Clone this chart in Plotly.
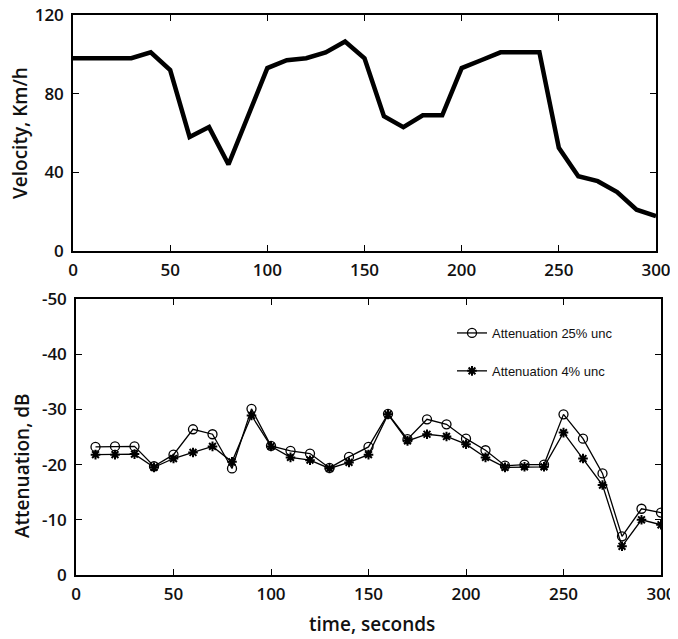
import plotly.graph_objects as go

# ---- data ----
time_velocity = list(range(0, 301, 10))
velocity_kmh = [98, 98, 98, 98, 101, 92, 58, 63, 44, 69,
                93, 97, 98, 101, 106.5, 98, 68.5, 63, 69, 69,
                93, 97, 101, 101, 101, 52.5, 38, 35.5, 30, 21, 17.7]

time_att = list(range(10, 301, 10))
att_25 = [-23.2, -23.3, -23.3, -19.7, -21.8, -26.4, -25.5, -19.3, -30.1, -23.4,
          -22.5, -22.0, -19.4, -21.4, -23.2, -29.2, -24.6, -28.2, -27.3, -24.7,
          -22.6, -19.8, -20.0, -20.0, -29.1, -24.7, -18.4, -7.0, -12.0, -11.3]
att_4 = [-21.8, -21.8, -21.9, -19.5, -21.1, -22.2, -23.3, -20.5, -28.9, -23.3,
         -21.3, -20.8, -19.3, -20.4, -21.8, -29.1, -24.3, -25.5, -25.1, -23.7,
         -21.3, -19.5, -19.6, -19.6, -25.8, -21.1, -16.3, -5.2, -10.0, -9.1]

x_ticks = [0, 50, 100, 150, 200, 250, 300]
vel_ticks = [0, 40, 80, 120]
att_ticks = [0, -10, -20, -30, -40, -50]
att_tick_text = ["0", "-10", "-20", "-30", "-40", "-50"]

# page body has an 8px margin; the figure is sized to fit inside the window
OFF = 8
W, H = 678 - OFF, 639 - OFF
def px(x):
    return (x - OFF) / W
def py(y):
    return 1 - (y - OFF) / H

fig = go.Figure()
fig.add_trace(go.Scatter(x=time_velocity, y=velocity_kmh, mode="lines",
                         line=dict(color="black", width=4.5), showlegend=False,
                         xaxis="x", yaxis="y"))
fig.add_trace(go.Scatter(x=time_att, y=att_25, mode="lines+markers",
                         name="Attenuation 25% unc", legendgroup="a",
                         line=dict(color="black", width=1.3),
                         marker=dict(symbol="circle-open", size=9, color="black",
                                     line=dict(width=1.3, color="black")),
                         xaxis="x2", yaxis="y2"))
fig.add_trace(go.Scatter(x=time_att, y=att_4, mode="lines+markers",
                         name="Attenuation 4% unc", legendgroup="b",
                         line=dict(color="black", width=1.3),
                         marker=dict(symbol="asterisk-open", size=8, color="black",
                                     line=dict(width=2, color="black")),
                         xaxis="x2", yaxis="y2"))

tickfont = dict(family="Open Sans", size=17, color="#111", weight=600)
common = dict(showline=True, linecolor="black", linewidth=1.5, mirror="ticks",
              ticks="inside", ticklen=6, tickwidth=1.2, tickcolor="black",
              showgrid=False, zeroline=False, tickfont=tickfont, automargin=False,
              ticklabeloverflow="allow")

fig.update_layout(
    template="none",
    width=W, height=H, margin=dict(l=0, r=0, t=0, b=0),
    paper_bgcolor="white", plot_bgcolor="white",
    xaxis=dict(domain=[px(73), px(656)], anchor="y", range=[0, 300],
               tickvals=x_ticks, ticklabelstandoff=3, **common),
    yaxis=dict(domain=[py(251), py(15)], anchor="x", range=[0, 120],
               tickvals=vel_ticks, ticklabelstandoff=4, **common),
    xaxis2=dict(domain=[px(76), px(661)], anchor="y2", range=[0, 300],
                tickvals=x_ticks, ticklabelstandoff=3, **common),
    yaxis2=dict(domain=[py(575), py(299)], anchor="x2", range=[0, -50],
                tickvals=att_ticks, ticktext=att_tick_text, ticklabelstandoff=4, **common),
    legend=dict(x=px(452), y=py(318), xanchor="left", yanchor="top",
                font=dict(family="Liberation Sans", size=13, color="#111"),
                tracegroupgap=18, bgcolor="rgba(0,0,0,0)", itemwidth=30),
    showlegend=True,
)

title_font = dict(family="Open Sans", size=19, color="#111", weight=600)
fig.add_annotation(text="Velocity, Km/h", x=px(20), y=py(133), xref="paper", yref="paper",
                   xanchor="center", yanchor="middle",
                   textangle=-90, showarrow=False, font=title_font)
fig.add_annotation(text="Attenuation, dB", x=px(22), y=py(466), xref="paper", yref="paper",
                   xanchor="center", yanchor="middle",
                   textangle=-90, showarrow=False, font=title_font)
fig.add_annotation(text="time, seconds", x=px(372), y=py(624), xref="paper", yref="paper",
                   xanchor="center", yanchor="middle",
                   showarrow=False, font=title_font)

fig.write_html("out.html")
